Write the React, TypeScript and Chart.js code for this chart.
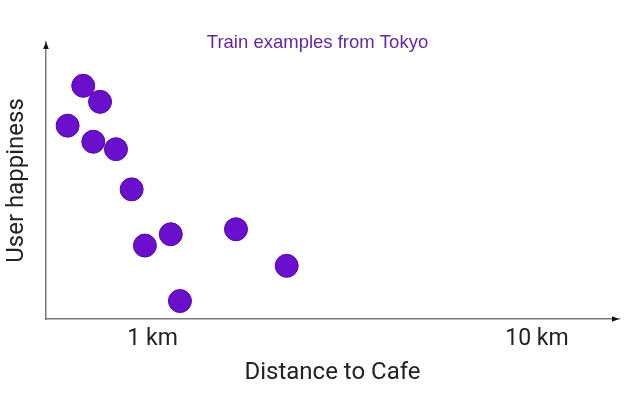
import React, { useEffect, useRef } from "react";
import { Chart, registerables } from "chart.js";

Chart.register(...registerables);

// Distance to cafe (km, log axis) and user happiness (0–10, unitless)
const distanceKm = [0.66, 0.73, 0.601, 0.701, 0.803, 0.882, 0.955, 1.115, 1.648, 2.233, 1.178];
const happiness = [8.42, 7.84, 6.98, 6.4, 6.13, 4.68, 2.65, 3.06, 3.24, 1.92, 0.65];
const xTickValues = [1, 10];
const xTickUnit = "km";
const titleText = "Train examples from Tokyo";
const xTitle = "Distance to Cafe";
const yTitle = "User happiness";

const arrowPlugin = {
  id: "axisArrows",
  afterDraw(chart: any) {
    const { ctx, chartArea } = chart;
    const { left, top, right, bottom } = chartArea;
    ctx.save();
    ctx.fillStyle = "#111111";
    ctx.beginPath();
    ctx.moveTo(left, top);
    ctx.lineTo(left - 2.8, top + 7);
    ctx.lineTo(left + 2.8, top + 7);
    ctx.closePath();
    ctx.fill();
    ctx.beginPath();
    ctx.moveTo(right, bottom);
    ctx.lineTo(right - 7, bottom - 2.8);
    ctx.lineTo(right - 7, bottom + 2.8);
    ctx.closePath();
    ctx.fill();
    ctx.restore();
  },
};

export default function App() {
  const canvasRef = useRef<HTMLCanvasElement | null>(null);

  useEffect(() => {
    if (!canvasRef.current) return;
    const points = distanceKm.map((x, i) => ({ x, y: happiness[i] }));
    const chart = new Chart(canvasRef.current, {
      type: "scatter",
      data: {
        datasets: [
          {
            data: points,
            backgroundColor: "#6a10cc",
            borderColor: "#5508a8",
            borderWidth: 1,
            pointRadius: 11.5,
            pointHoverRadius: 11.5,
            clip: false as any,
          },
        ],
      },
      options: {
        responsive: false,
        animation: false,
        events: [],
        layout: { padding: { left: 16, right: 21, top: 0, bottom: 8 } },
        plugins: {
          legend: { display: false },
          tooltip: { enabled: false },
          title: {
            display: true,
            text: titleText,
            color: "#6426a6",
            font: { family: "'Liberation Sans', Arial, sans-serif", size: 18.5, weight: "normal" as any },
            padding: { top: 31.4, bottom: -11.6 },
          },
        },
        scales: {
          x: {
            type: "logarithmic",
            min: 0.528,
            max: 16.35,
            bounds: "data",
            grid: { display: false, drawTicks: false },
            border: { display: true, color: "#7a7a7a", width: 1.5 },
            afterBuildTicks: (scale: any) => {
              scale.ticks = xTickValues.map((v) => ({ value: v }));
            },
            ticks: {
              autoSkip: false,
              maxRotation: 0,
              padding: 6.2,
              color: "#222222",
              font: { family: "Roboto", size: 23 },
              callback: (v: any) => `${v} ${xTickUnit}`,
            },
            title: {
              display: true,
              text: xTitle,
              color: "#222222",
              font: { family: "Roboto", size: 24 },
              padding: { top: 0, bottom: 4.2 },
            },
          },
          y: {
            type: "linear",
            min: 0,
            max: 10,
            grid: { display: false, drawTicks: false },
            border: { display: true, color: "#7a7a7a", width: 1.5 },
            ticks: { display: false },
            title: {
              display: true,
              text: yTitle,
              color: "#222222",
              font: { family: "Roboto", size: 24 },
              padding: { top: -13.5, bottom: 14.7 },
            },
          },
        },
      },
      plugins: [arrowPlugin],
    });
    return () => chart.destroy();
  }, []);

  return (
    <div style={{ position: "absolute", left: 0, top: 0, width: 640, height: 400, background: "#ffffff" }}>
      <canvas ref={canvasRef} width={640} height={400} style={{ display: "block" }} />
    </div>
  );
}
